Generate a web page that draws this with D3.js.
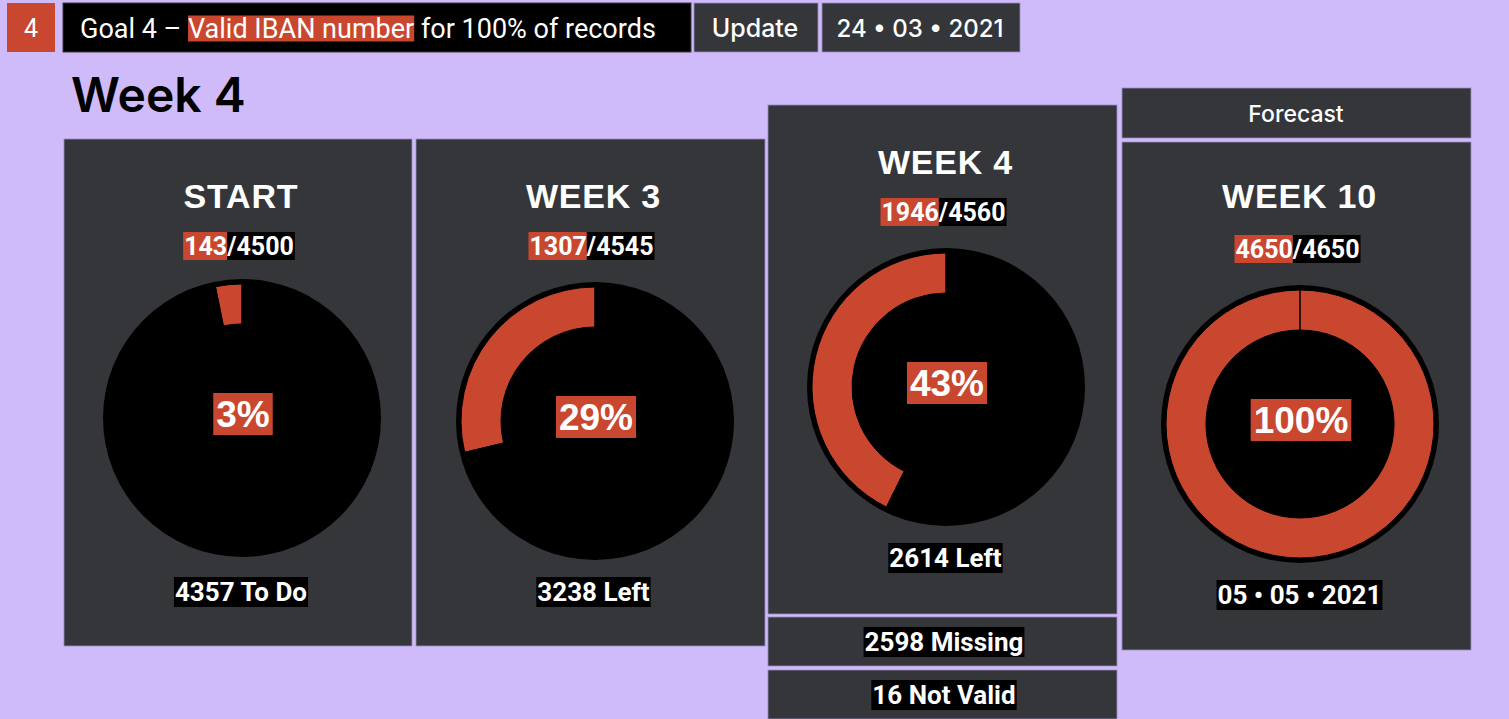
<!DOCTYPE html>
<html>
<head>
<meta charset="utf-8">
<script src="https://cdn.jsdelivr.net/npm/d3@7"></script>
<style>
  html, body { margin: 0; padding: 0; background: #cfbbf9; }
  svg { display: block; }
  text { white-space: pre; }
</style>
</head>
<body>
<div id="chart"></div>
<script>
// values
var goalNumber = "4";
var goalParts = ["Goal 4 – ", "Valid IBAN number", " for 100% of records"];
var updateLabel = "Update";
var updateDate = "24 • 03 • 2021";
var pageTitle = "Week 4";
var forecastLabel = "Forecast";

var panelTitles = ["START", "WEEK 3", "WEEK 4", "WEEK 10"];
var doneCounts = [143, 1307, 1946, 4650];
var totalCounts = [4500, 4545, 4560, 4650];
var footerSuffix = ["To Do", "Left", "Left", null];
var forecastDate = "05 • 05 • 2021";

var breakdownLabels = ["Missing", "Not Valid"];
var breakdownCounts = [2598, 16];

// layout / style
var W = 1509, H = 719;
var RED = "#c9472f", DARK = "#35363a", LAV = "#cfbbf9";
var panelBoxes = [
  {x: 64, y: 139, w: 348, h: 507},
  {x: 416, y: 139, w: 349, h: 507},
  {x: 768, y: 105, w: 349, h: 509},
  {x: 1122, y: 142, w: 349, h: 508}
];
var donutPos = [{cx: 242, cy: 418}, {cx: 595, cy: 421}, {cx: 946, cy: 387}, {cx: 1300, cy: 424}];

var svg = d3.select("#chart").append("svg").attr("width", W).attr("height", H);
svg.append("rect").attr("width", W).attr("height", H).attr("fill", LAV);

// text pieces side by side, each on its own background box
function pill(g, cx, cy, parts, opt) {
  var grp = g.append("g");
  var items = parts.map(function(p) {
    var r = grp.append("rect").attr("fill", p.bg);
    var t = grp.append("text").text(p.text).attr("fill", "#fff")
      .style("font-family", opt.family).style("font-size", opt.size + "px")
      .style("font-weight", opt.weight);
    return {r: r, t: t, w: t.node().getComputedTextLength()};
  });
  var total = d3.sum(items, function(d) { return d.w; }) + 2 * opt.padX;
  var x = opt.align === "left" ? cx : cx - total / 2;
  items.forEach(function(it, i) {
    var pl = i === 0 ? opt.padX : 0, pr = i === items.length - 1 ? opt.padX : 0;
    it.r.attr("x", x).attr("y", cy - opt.h / 2).attr("width", it.w + pl + pr).attr("height", opt.h);
    it.t.attr("x", x + pl).attr("y", cy + opt.size * 0.36);
    x += it.w + pl + pr;
  });
}

// header row
var head = svg.append("g");
head.append("rect").attr("x", 7).attr("y", 3).attr("width", 48).attr("height", 49).attr("fill", RED);
head.append("text").attr("x", 31).attr("y", 37).attr("text-anchor", "middle").attr("fill", "#fff")
  .style("font-family", "Roboto").style("font-size", "25px").text(goalNumber);
head.append("rect").attr("x", 63).attr("y", 3).attr("width", 628).attr("height", 49).attr("fill", "#000")
  .attr("stroke", "#3a3a3a");
pill(head, 80, 28.5, [
  {text: goalParts[0], bg: "none"},
  {text: goalParts[1], bg: RED},
  {text: goalParts[2], bg: "none"}
], {family: "Roboto", size: 27, weight: 400, padX: 0, h: 26, align: "left"});

head.append("rect").attr("x", 694).attr("y", 3).attr("width", 124).attr("height", 49).attr("fill", DARK)
  .attr("stroke", "#9b8cc4").attr("stroke-width", 0.8);
head.append("text").attr("x", 755).attr("y", 37).attr("text-anchor", "middle").attr("fill", "#fff")
  .style("font-family", "Inter").style("font-size", "25px").style("font-weight", 500).text(updateLabel);
head.append("rect").attr("x", 822).attr("y", 3).attr("width", 198).attr("height", 49).attr("fill", DARK)
  .attr("stroke", "#9b8cc4").attr("stroke-width", 0.8);
head.append("text").attr("x", 920).attr("y", 37).attr("text-anchor", "middle").attr("fill", "#fff")
  .style("font-family", "Inter").style("font-size", "24px").style("font-weight", 500).text(updateDate);

svg.append("text").attr("x", 71).attr("y", 112).attr("fill", "#000")
  .style("font-family", "Inter").style("font-size", "48px").style("font-weight", 600).text(pageTitle);

// forecast tab above last panel
svg.append("rect").attr("x", 1122).attr("y", 88).attr("width", 349).attr("height", 50).attr("fill", DARK)
  .attr("stroke", "#9b8cc4").attr("stroke-width", 0.8);
svg.append("text").attr("x", 1296).attr("y", 122).attr("text-anchor", "middle").attr("fill", "#fff")
  .style("font-family", "Inter").style("font-size", "23px").style("font-weight", 500).text(forecastLabel);

// panels
var pct = d3.format(".0%");
var pie = d3.pie().sort(null).startAngle(0).endAngle(-2 * Math.PI);
var arc = d3.arc().innerRadius(94).outerRadius(134);
var titleOffset = [69, 69, 69, 66];

panelTitles.forEach(function(title, i) {
  var b = panelBoxes[i], p = donutPos[i];
  var g = svg.append("g");
  var mx = b.x + b.w / 2 + 3;
  g.append("rect").attr("x", b.x).attr("y", b.y).attr("width", b.w).attr("height", b.h)
    .attr("fill", DARK).attr("stroke", "#9b8cc4").attr("stroke-width", 0.8);

  g.append("text").attr("x", mx).attr("y", b.y + titleOffset[i]).attr("text-anchor", "middle").attr("fill", "#fff")
    .style("font-family", "Liberation Sans").style("font-size", "34px").style("font-weight", 700)
    .style("letter-spacing", "0.8px").text(title);

  pill(g, mx - 2, b.y + 107, [
    {text: String(doneCounts[i]), bg: RED},
    {text: "/" + totalCounts[i], bg: "#000"}
  ], {family: "Roboto", size: 25, weight: 700, padX: 1, h: 28});

  var d = g.append("g").attr("transform", "translate(" + p.cx + "," + p.cy + ")");
  d.append("circle").attr("r", 139).attr("fill", "#000");
  d.selectAll("path").data(pie([doneCounts[i], totalCounts[i] - doneCounts[i]])).enter()
    .append("path").attr("d", arc)
    .attr("fill", function(s, j) { return j === 0 ? RED : "none"; })
    .attr("stroke", "#000").attr("stroke-width", 1);

  pill(g, p.cx + 1, p.cy - 4, [{text: pct(doneCounts[i] / totalCounts[i]), bg: RED}],
    {family: "Liberation Sans", size: 37, weight: 700, padX: 3, h: 42});

  var foot = footerSuffix[i] ? (totalCounts[i] - doneCounts[i]) + " " + footerSuffix[i] : forecastDate;
  pill(g, mx, b.y + 453, [{text: foot, bg: "#000"}],
    {family: "Roboto", size: 26, weight: 700, padX: 1, h: 30});
});

// week 4 breakdown boxes
breakdownLabels.forEach(function(lab, i) {
  var y = 617 + i * 53;
  svg.append("rect").attr("x", 768).attr("y", y).attr("width", 349).attr("height", 49)
    .attr("fill", DARK).attr("stroke", "#9b8cc4").attr("stroke-width", 0.8);
  pill(svg, 944, y + 25, [{text: breakdownCounts[i] + " " + lab, bg: "#000"}],
    {family: "Roboto", size: 26, weight: 700, padX: 1, h: 30});
});
</script>
</body>
</html>
